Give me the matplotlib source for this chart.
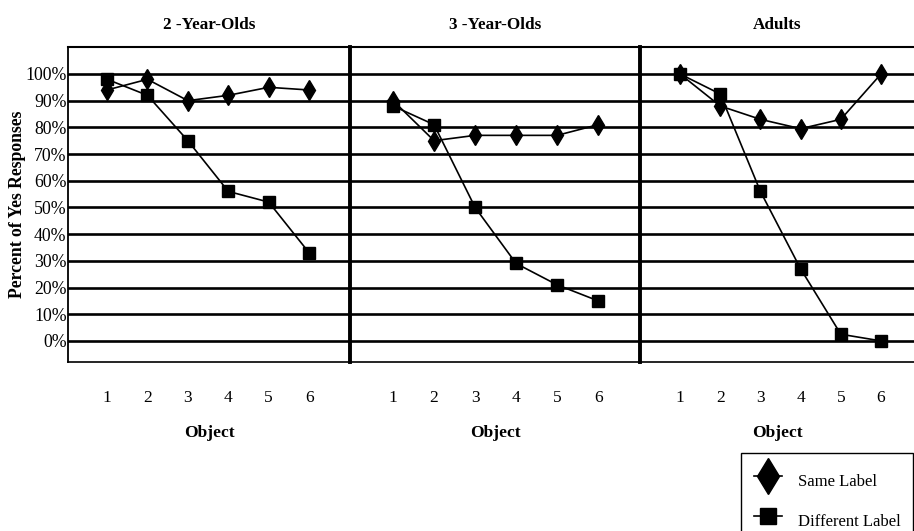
import matplotlib
matplotlib.use("Agg")
import matplotlib.pyplot as plt
from matplotlib.lines import Line2D

plt.rcParams["font.family"] = ["Liberation Serif", "DejaVu Serif"]

objects = [1, 2, 3, 4, 5, 6]
panel_titles = ["2 -Year-Olds", "3 -Year-Olds", "Adults"]

same_label = [
    [94, 98, 90, 92, 95, 94],
    [90, 75, 77, 77, 77, 81],
    [100, 88, 83, 79.5, 83, 100],
]
different_label = [
    [98, 92, 75, 56, 52, 33],
    [88, 81, 50, 29, 21, 15],
    [100, 92.5, 56, 27, 2.5, 0],
]

y_ticks = list(range(0, 101, 10))
y_ticklabels = [f"{v}%" for v in y_ticks]
x_limits = [(0.035, 7.01), (-0.05, 7.02), (0.005, 6.82)]

fig = plt.figure(figsize=(9.14, 5.31), dpi=100)
gs = fig.add_gridspec(1, 3, width_ratios=[282, 290, 274], wspace=0,
                      left=68 / 914, right=1.0, bottom=1 - 362 / 531, top=1 - 47 / 531)

axes = []
for i in range(3):
    ax = fig.add_subplot(gs[0, i])
    axes.append(ax)
    for v in y_ticks:
        ax.axhline(v, color="black", lw=1.9, zorder=1)
    ax.plot(objects, same_label[i], color="black", lw=1.2, marker="d",
            markersize=10, markerfacecolor="black", markeredgecolor="black", zorder=3)
    ax.plot(objects, different_label[i], color="black", lw=1.2, marker="s",
            markersize=8, markerfacecolor="black", markeredgecolor="black", zorder=3)
    ax.set_xlim(*x_limits[i])
    ax.set_ylim(-7.9, 110.1)
    ax.set_xticks(objects)
    ax.set_xticklabels([str(o) for o in objects], fontsize=12.5)
    ax.tick_params(axis="x", length=0, pad=20)
    ax.set_xlabel("Object", fontsize=12.5, fontweight="bold", labelpad=14)
    ax.set_title(panel_titles[i], fontsize=12.3, fontweight="bold", pad=13)
    ax.spines["top"].set_linewidth(1.5)
    ax.spines["bottom"].set_linewidth(1.2)
    ax.spines["right"].set_visible(False)
    if i == 0:
        ax.spines["left"].set_linewidth(1.3)
        ax.set_yticks(y_ticks)
        ax.set_yticklabels(y_ticklabels, fontsize=12.8)
        ax.tick_params(axis="y", length=0, pad=1)
    else:
        ax.spines["left"].set_linewidth(2.8)
        ax.set_yticks([])

fig.text(18 / 914, 1 - 204 / 531, "Percent of Yes Responses", rotation=90,
         ha="center", va="center", fontsize=12.7, fontweight="bold")

handles = [
    Line2D([], [], color="black", lw=1.2, marker="d", markersize=18, markerfacecolor="black"),
    Line2D([], [], color="black", lw=1.2, marker="s", markersize=12, markerfacecolor="black"),
]
leg = fig.legend(handles, ["Same Label", "Different Label"], loc="upper left",
                 bbox_to_anchor=(741 / 914, 1 - 453 / 531), fontsize=12,
                 fancybox=False, edgecolor="black", framealpha=1,
                 handlelength=1.7, handleheight=2.4, handletextpad=0.95,
                 labelspacing=0.62, borderpad=0.75, borderaxespad=0)
leg.get_frame().set_linewidth(1.0)

fig.savefig("out.png", dpi=100)
